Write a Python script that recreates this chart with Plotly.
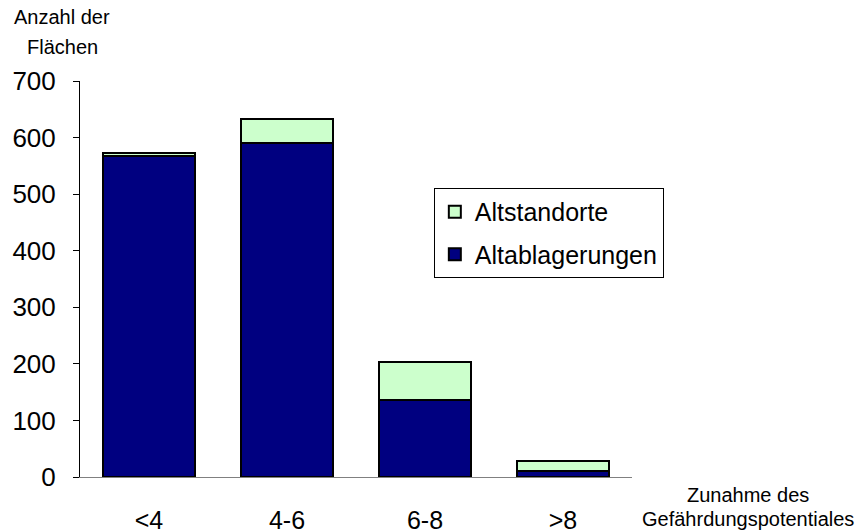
import plotly.graph_objects as go

categories = ["<4", "4-6", "6-8", ">8"]
altablagerungen = [567, 590, 136, 10]
altstandorte = [5, 42, 67, 18]
y_ticks = [0, 100, 200, 300, 400, 500, 600, 700]
y_title_lines = ["Anzahl der", "Flächen"]
x_title_lines = ["Zunahme des", "Gefährdungspotentiales"]

FONT = "Liberation Sans, Arial, sans-serif"

fig = go.Figure()
fig.add_trace(go.Bar(x=categories, y=altablagerungen, name="Altablagerungen",
                     legendgroup="a", legendrank=2,
                     marker=dict(color="#000080", line=dict(color="black", width=2))))
fig.add_trace(go.Bar(x=categories, y=altstandorte, name="Altstandorte",
                     legendgroup="b", legendrank=1,
                     marker=dict(color="#CCFFCC", line=dict(color="black", width=2))))

# page body has an 8px margin, so the figure is sized to fit the 866x531 window
fig.update_layout(
    width=858, height=523,
    barmode="stack", bargap=0.33,
    plot_bgcolor="white", paper_bgcolor="white",
    margin=dict(l=72, r=234, t=73, b=54),
    font=dict(family=FONT, color="black"),
    showlegend=True,
    legend=dict(x=0.641, y=0.73, xanchor="left", yanchor="top",
                traceorder="grouped", tracegroupgap=7,
                bordercolor="black", borderwidth=1,
                font=dict(size=25, family=FONT), bgcolor="white",
                itemsizing="constant"),
)
fig.update_yaxes(range=[0, 700], tickvals=y_ticks, showgrid=False, zeroline=False,
                 showline=True, linecolor="black", linewidth=1, automargin=False,
                 ticks="outside", ticklen=6, tickcolor="black", ticklabelstandoff=12,
                 tickfont=dict(size=26, family=FONT))
fig.update_xaxes(showline=True, linecolor="#808080", linewidth=1, showgrid=False,
                 automargin=False,
                 ticks="", tickfont=dict(size=25, family=FONT), ticklabelstandoff=21)

for txt, yy in zip(y_title_lines, [1.1616, 1.0859]):
    fig.add_annotation(text=txt, xref="paper", yref="paper", x=-0.032, y=yy,
                       xanchor="center", yanchor="middle", showarrow=False,
                       font=dict(size=20, family=FONT))
for txt, yy in zip(x_title_lines, [-0.0455, -0.106]):
    fig.add_annotation(text=txt, xref="paper", yref="paper", x=1.21, y=yy,
                       xanchor="center", yanchor="middle", showarrow=False,
                       font=dict(size=20, family=FONT))

fig.write_html("out.html")
